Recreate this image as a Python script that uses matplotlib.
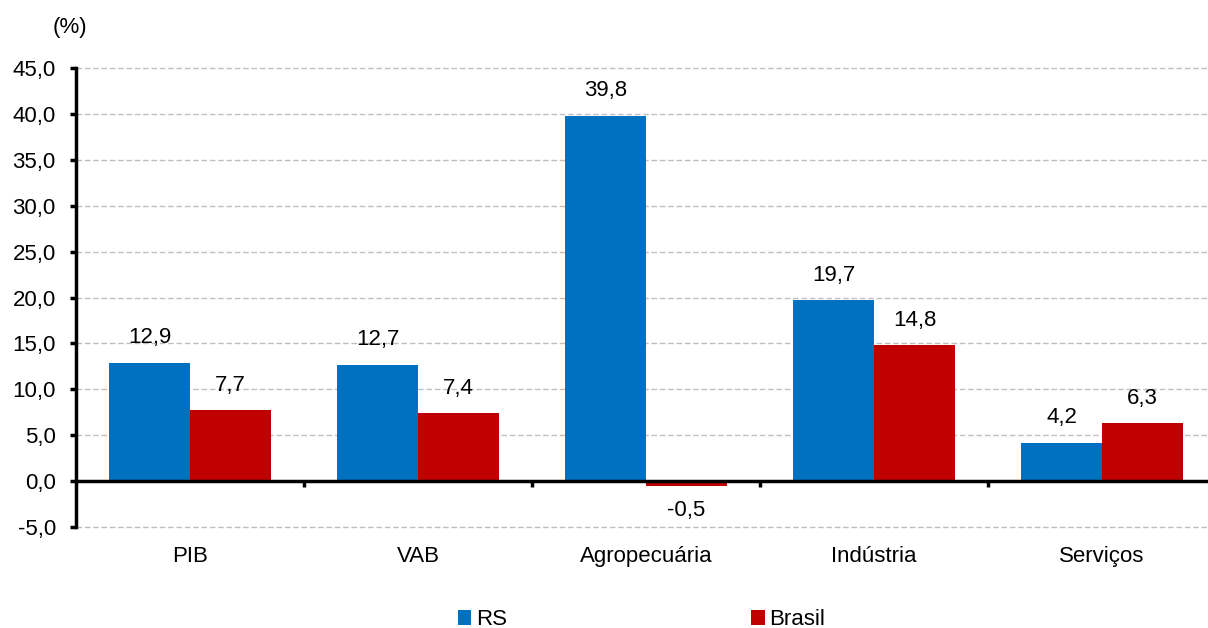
import matplotlib.pyplot as plt
import numpy as np

# dados do gráfico
categorias = ['PIB', 'VAB', 'Agropecuária', 'Indústria', 'Serviços']
rs = [12.9, 12.7, 39.8, 19.7, 4.2]
brasil = [7.7, 7.4, -0.5, 14.8, 6.3]
yticks = [-5, 0, 5, 10, 15, 20, 25, 30, 35, 40, 45]

plt.rcParams['font.family'] = ['Liberation Sans', 'DejaVu Sans']
fs = 16

fig = plt.figure(figsize=(12.08, 6.28), dpi=100)
ax = fig.add_axes([0.0629, 0.1608, 0.9437, 0.7309])

x = np.arange(len(categorias))
w = 0.355
b1 = ax.bar(x - w / 2, rs, w, color='#0070C0', label='RS', zorder=3)
b2 = ax.bar(x + w / 2, brasil, w, color='#C00000', label='Brasil', zorder=3)

def fmt(v):
    return ('%.1f' % v).replace('.', ',')

for barras, vals in ((b1, rs), (b2, brasil)):
    for b, v in zip(barras, vals):
        cx = b.get_x() + b.get_width() / 2
        if v >= 0:
            ax.annotate(fmt(v), (cx, v), xytext=(0, 18), textcoords='offset points',
                        ha='center', va='center', fontsize=fs)
        else:
            ax.annotate(fmt(v), (cx, v), xytext=(0, -18), textcoords='offset points',
                        ha='center', va='center', fontsize=fs)

ax.set_ylim(-5, 45)
ax.set_xlim(-0.5, len(categorias) - 0.5)
ax.set_yticks(yticks)
ax.set_yticklabels([fmt(v) for v in yticks], fontsize=fs)
ax.yaxis.grid(True, color='#BFBFBF', linestyle=(0, (4, 2)), linewidth=1, zorder=0)
for gl in ax.get_ygridlines():
    gl.set_clip_on(False)

ax.spines['top'].set_visible(False)
ax.spines['right'].set_visible(False)
ax.spines['left'].set_linewidth(2.5)
ax.spines['bottom'].set_position(('data', 0))
ax.spines['bottom'].set_linewidth(2.5)
ax.spines['bottom'].set_zorder(4)

ax.set_xticks(x)
ax.set_xticklabels(categorias, fontsize=fs)
ax.set_xticks(np.arange(len(categorias) - 1) + 0.5, minor=True)
ax.tick_params(axis='x', which='major', length=0, pad=47)
ax.tick_params(axis='x', which='minor', length=4.5, width=2.5, direction='out')
ax.tick_params(axis='y', length=4.5, width=2.5, direction='out', pad=10)

fig.text(0.058, 0.957, '(%)', fontsize=fs, ha='center', va='center')

fig.legend(handles=[b1, b2], labels=['RS', 'Brasil'], loc='center',
           bbox_to_anchor=(0.531, 0.013), ncol=2, frameon=False, fontsize=fs,
           handlelength=0.6, handleheight=0.6, handletextpad=0.2,
           columnspacing=11.0)

fig.savefig('out.png', dpi=100)
